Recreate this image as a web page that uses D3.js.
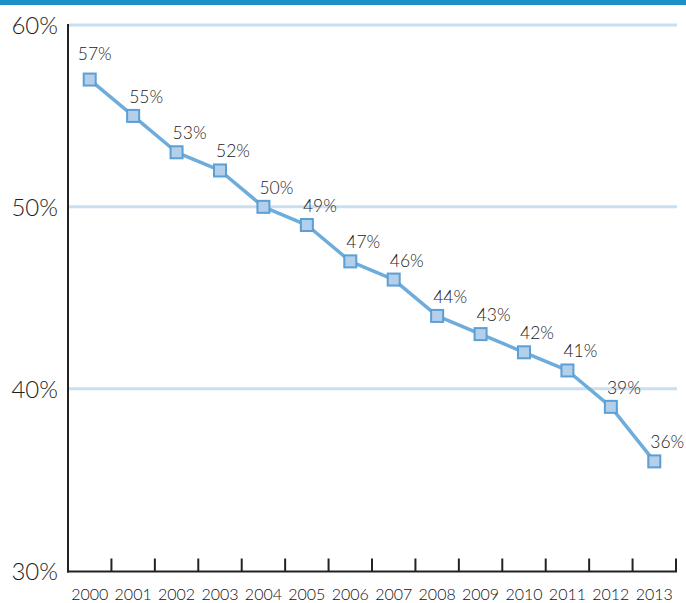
<!DOCTYPE html>
<html>
<head>
<meta charset="utf-8">
<script src="https://cdn.jsdelivr.net/npm/d3@7"></script>
<style>
  html, body { margin: 0; padding: 0; background: #fff; }
  svg { display: block; font-family: "Liberation Sans", Arial, sans-serif; }
  .lbl { font-family: "Lato", "Liberation Sans", sans-serif; font-weight: 300; }
</style>
</head>
<body>
<svg id="chart" width="686" height="603"></svg>
<script>
// Yearly share values (percent)
const years = ["2000","2001","2002","2003","2004","2005","2006","2007","2008","2009","2010","2011","2012","2013"];
const values = [57, 55, 53, 52, 50, 49, 47, 46, 44, 43, 42, 41, 39, 36];
const yTicks = [30, 40, 50, 60];

const svg = d3.select("#chart");
const W = 686;

// Top accent bar
svg.append("rect").attr("x", 0).attr("y", 0).attr("width", W).attr("height", 5).attr("fill", "#1a8fca");

const x = d3.scaleBand().domain(years).range([68, 676]).paddingInner(0).paddingOuter(0);
const y = d3.scaleLinear().domain([30, 60]).range([570.5, 25]);

// Horizontal gridlines
svg.append("g").selectAll("line")
  .data(yTicks.filter(t => t > 30))
  .join("line")
  .attr("x1", 69).attr("x2", 677)
  .attr("y1", d => y(d)).attr("y2", d => y(d))
  .attr("stroke", "#c8dff1").attr("stroke-width", 3);

// Y-axis labels
svg.append("g").selectAll("text")
  .data(yTicks)
  .join("text")
  .attr("class", "lbl")
  .attr("x", 58).attr("y", d => y(d) + 9)
  .attr("text-anchor", "end")
  .attr("font-size", 24)
  .attr("fill", "#1e1e1e")
  .text(d => d + "%");

// X axis with upward ticks at band boundaries
const axisY = 571.5;
svg.append("line").attr("x1", 67).attr("x2", 677).attr("y1", axisY).attr("y2", axisY)
  .attr("stroke", "#222").attr("stroke-width", 2);
svg.append("line").attr("x1", 68).attr("x2", 68).attr("y1", 24).attr("y2", axisY + 1)
  .attr("stroke", "#222").attr("stroke-width", 2);
const boundaries = years.map(d => x(d) + x.bandwidth()).concat([x(years[0])]);
svg.append("g").selectAll("line")
  .data(boundaries)
  .join("line")
  .attr("x1", d => d).attr("x2", d => d)
  .attr("y1", axisY - 13).attr("y2", axisY)
  .attr("stroke", "#222").attr("stroke-width", 2);

svg.append("g").selectAll("text")
  .data(years)
  .join("text")
  .attr("class", "lbl")
  .attr("x", d => x(d) + x.bandwidth() / 2)
  .attr("y", 600)
  .attr("text-anchor", "middle")
  .attr("font-size", 16)
  .attr("fill", "#111")
  .text(d => d);

// Data line
const pts = years.map((yr, i) => ({ yr, v: values[i] }));
const cx = d => x(d.yr) + x.bandwidth() / 2;
svg.append("path")
  .datum(pts)
  .attr("d", d3.line().x(cx).y(d => y(d.v)))
  .attr("fill", "none")
  .attr("stroke", "#6eaddb")
  .attr("stroke-width", 3.5)
  .attr("stroke-linejoin", "round");

// Square markers
const s = 12;
svg.append("g").selectAll("rect")
  .data(pts)
  .join("rect")
  .attr("x", d => cx(d) - s / 2)
  .attr("y", d => y(d.v) - s / 2)
  .attr("width", s).attr("height", s)
  .attr("fill", "#b3cfea")
  .attr("stroke", "#5a9fd6")
  .attr("stroke-width", 2);

// Value labels
svg.append("g").selectAll("text")
  .data(pts)
  .join("text")
  .attr("class", "lbl")
  .attr("x", (d, i) => cx(d) + (i === 0 ? 5 : 13))
  .attr("y", (d, i) => y(d.v) - (i === 0 ? 20 : 13))
  .attr("text-anchor", "middle")
  .attr("font-size", 17.5)
  .attr("fill", "#222")
  .text(d => d.v + "%");
</script>
</body>
</html>
